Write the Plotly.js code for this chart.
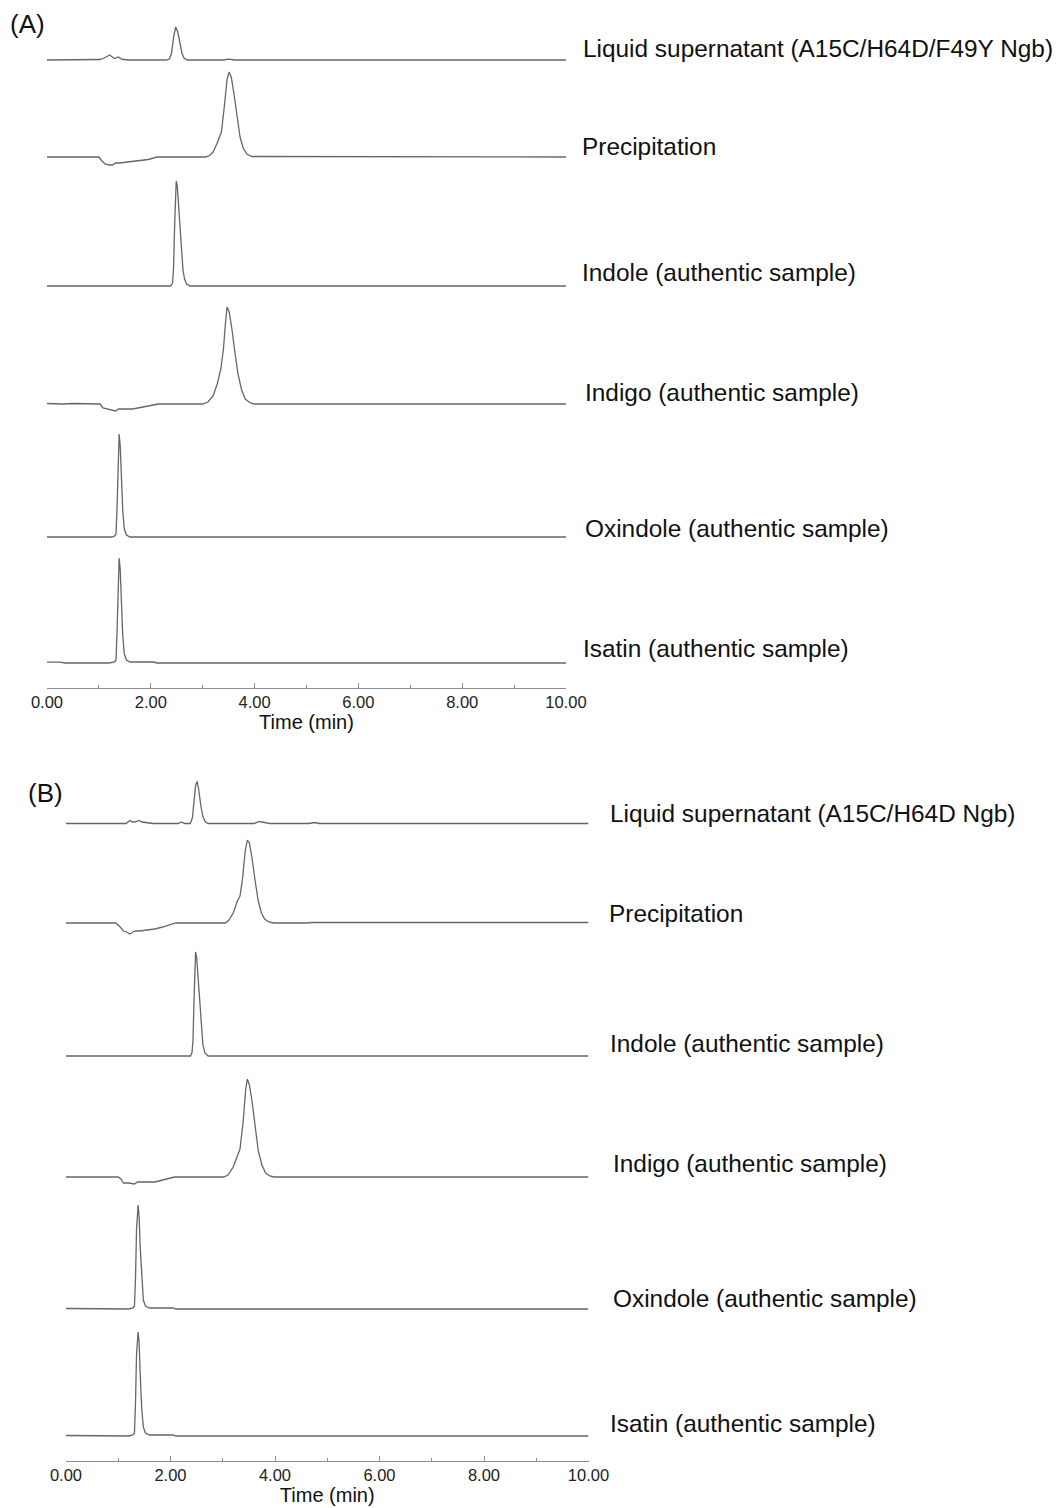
<!DOCTYPE html>
<html>
<head>
<meta charset="utf-8">
<script src="https://cdn.plot.ly/plotly-3.0.1.min.js"></script>
<style>
  html, body { margin: 0; padding: 0; background: #ffffff; }
  #chart { width: 1059px; height: 1508px; }
</style>
</head>
<body>
<div id="chart"></div>
<script>
// ---------------- DATA (time in min, detector response in arbitrary units) ----------------
const panelNames = ["(A)", "(B)"];
const labelsA = [
  "Liquid supernatant (A15C/H64D/F49Y Ngb)",
  "Precipitation",
  "Indole (authentic sample)",
  "Indigo (authentic sample)",
  "Oxindole (authentic sample)",
  "Isatin (authentic sample)"
];
const labelsB = [
  "Liquid supernatant (A15C/H64D Ngb)",
  "Precipitation",
  "Indole (authentic sample)",
  "Indigo (authentic sample)",
  "Oxindole (authentic sample)",
  "Isatin (authentic sample)"
];
const tickValues = [0, 2, 4, 6, 8, 10];
const axisTitle = "Time (min)";

// Panel A
const a1_t = [0, 0.95, 1.02, 1.10, 1.16, 1.21, 1.27, 1.31, 1.37, 1.46, 1.59, 2.30, 2.36, 2.40, 2.44, 2.48, 2.52, 2.56, 2.60, 2.64, 2.70, 3.40, 3.50, 3.62, 4.70, 4.80, 4.90, 6.60, 6.70, 6.80, 10];
const a1_y = [0, 0, 0.5, 2, 4, 5, 2.5, 1.5, 3, 0.5, 0, 0, 1, 7, 23, 33, 28, 16, 7, 2, 0, 0, 0.8, 0, 0, 0.5, 0, 0, 0.4, 0, 0];

const a2_t = [0, 1.00, 1.06, 1.12, 1.20, 1.26, 1.32, 1.40, 1.55, 1.75, 1.95, 2.12, 3.05, 3.12, 3.20, 3.28, 3.36, 3.42, 3.47, 3.51, 3.55, 3.60, 3.66, 3.72, 3.78, 3.85, 3.95, 10];
const a2_y = [0, 0, -4, -7, -8, -8, -6, -6, -5, -4, -2.5, 0, 0, 1, 5, 14, 25, 52, 78, 85, 80, 64, 40, 20, 9, 3, 0.5, 0];

const a3_t = [0, 2.38, 2.42, 2.44, 2.46, 2.48, 2.49, 2.51, 2.53, 2.56, 2.59, 2.62, 2.65, 2.69, 2.76, 10];
const a3_y = [0, 0, 3, 20, 62, 98, 105, 100, 84, 58, 33, 16, 7, 2, 0, 0];

const a4_t = [0, 0.30, 0.50, 0.80, 1.02, 1.08, 1.15, 1.25, 1.32, 1.38, 1.50, 1.65, 1.75, 1.85, 2.05, 2.15, 3.00, 3.10, 3.20, 3.28, 3.35, 3.40, 3.44, 3.47, 3.51, 3.56, 3.62, 3.68, 3.75, 3.82, 3.92, 4.00, 10];
const a4_y = [0.5, 0, 0.5, 0, 0, -4, -5, -6, -7, -5, -5, -5, -4, -3, -1, 0, 0, 2, 8, 20, 35, 55, 82, 97, 92, 76, 52, 30, 14, 5, 1, 0, 0];

const a5_t = [0, 1.25, 1.30, 1.33, 1.35, 1.37, 1.39, 1.41, 1.43, 1.46, 1.49, 1.53, 1.60, 1.85, 1.90, 10];
const a5_y = [0, 0, 0.8, 3, 30, 80, 103, 92, 60, 26, 8, 2, 0, 0.5, 0, 0];

const a6_t = [0, 0.25, 0.35, 1.20, 1.30, 1.33, 1.35, 1.37, 1.39, 1.41, 1.43, 1.46, 1.49, 1.53, 1.60, 2.05, 2.12, 10];
const a6_y = [0.8, 0.8, 0, 0, 1, 3, 32, 82, 105, 94, 62, 27, 9, 3, 1, 1, 0, 0];

// Panel B
const b1_t = [0, 1.15, 1.22, 1.27, 1.32, 1.37, 1.40, 1.45, 1.50, 1.57, 1.67, 2.15, 2.21, 2.27, 2.38, 2.42, 2.45, 2.48, 2.51, 2.54, 2.58, 2.62, 2.66, 2.72, 3.60, 3.70, 3.80, 3.90, 4.65, 4.75, 4.85, 10];
const b1_y = [0, 0, 3, 1.5, 1.5, 2.5, 3, 1.5, 1, 0.5, 0, 0, 1.5, 0, 0, 6, 22, 38, 42, 34, 18, 7, 2, 0, 0, 2, 1, 0, 0, 1, 0, 0];

const b2_t = [0, 0.95, 1.02, 1.10, 1.16, 1.22, 1.28, 1.33, 1.40, 1.55, 1.70, 1.85, 2.00, 2.10, 3.05, 3.12, 3.20, 3.28, 3.33, 3.38, 3.43, 3.47, 3.51, 3.56, 3.62, 3.68, 3.74, 3.80, 3.88, 3.97, 4.60, 4.70, 10];
const b2_y = [0, 0, -3, -8, -9, -11, -9, -8, -8, -7, -6, -4, -2, 0, 0, 3, 10, 22, 27, 45, 72, 83, 80, 65, 42, 22, 10, 4, 1, 0, 0, 0.5, 0.5];

const b3_t = [0, 2.38, 2.41, 2.43, 2.45, 2.47, 2.48, 2.50, 2.53, 2.56, 2.59, 2.62, 2.66, 2.72, 10];
const b3_y = [0, 0, 3, 15, 55, 96, 104, 99, 78, 50, 26, 11, 3, 0, 0];

const b4_t = [0, 1.00, 1.05, 1.10, 1.20, 1.31, 1.37, 1.50, 1.70, 1.85, 2.00, 2.08, 3.02, 3.10, 3.20, 3.28, 3.33, 3.39, 3.44, 3.47, 3.51, 3.56, 3.62, 3.68, 3.75, 3.82, 3.90, 3.98, 10];
const b4_y = [0, 0, -2, -6, -6, -7, -5, -5, -5, -3, -1, 0, 0, 2, 10, 22, 28, 55, 88, 98, 92, 76, 50, 26, 12, 4, 1, 0, 0];

const b5_t = [0, 0.40, 0.50, 1.20, 1.28, 1.31, 1.33, 1.35, 1.38, 1.40, 1.42, 1.45, 1.48, 1.52, 1.60, 2.05, 2.10, 10];
const b5_y = [0.5, 0.5, 0, 0, 1, 3, 30, 80, 104, 92, 62, 28, 9, 3, 1, 1, 0, 0];

const b6_t = [0, 0.40, 0.50, 1.20, 1.28, 1.31, 1.33, 1.35, 1.38, 1.40, 1.42, 1.45, 1.48, 1.52, 1.60, 2.05, 2.10, 10];
const b6_y = [0.5, 0.5, 0, 0, 1, 3, 32, 82, 104, 93, 62, 27, 9, 3, 1, 1, 0, 0];

// ---------------- LAYOUT / STYLE ----------------
const W = 1059, H = 1508;
const FONT = "Liberation Sans, Arial, Helvetica, sans-serif";
const LINE = "#666666";
const AXIS = "#8c8c8c";

const seriesA = [[a1_t, a1_y], [a2_t, a2_y], [a3_t, a3_y], [a4_t, a4_y], [a5_t, a5_y], [a6_t, a6_y]];
const seriesB = [[b1_t, b1_y], [b2_t, b2_y], [b3_t, b3_y], [b4_t, b4_y], [b5_t, b5_y], [b6_t, b6_y]];

const panels = [
  { series: seriesA, labels: labelsA, xa: "x", xkey: "xaxis",
    xpx: [47, 566], axisY: 687.5,
    base: [60, 157, 286, 404, 537, 663],
    labX: [581, 580, 580, 583, 583, 581], labY: [48, 146, 273, 393, 528, 649],
    tagX: 27, tagY: 24 },
  { series: seriesB, labels: labelsB, xa: "x2", xkey: "xaxis2",
    xpx: [66, 588.5], axisY: 1460.5,
    base: [823.5, 923, 1056, 1177, 1309, 1436],
    labX: [608, 607, 608, 611, 611, 608], labY: [813, 913, 1043, 1163, 1298, 1423],
    tagX: 45, tagY: 793 }
];

const data = [];
const layout = {
  width: W, height: H, autosize: false,
  margin: { l: 0, r: 0, t: 0, b: 0, pad: 0 },
  paper_bgcolor: "#ffffff", plot_bgcolor: "rgba(0,0,0,0)",
  showlegend: false,
  font: { family: FONT, color: "#111111" },
  annotations: []
};

let yi = 1;
panels.forEach((p, pi) => {
  layout[p.xkey] = {
    domain: [p.xpx[0] / W, p.xpx[1] / W],
    range: [0, 10],
    anchor: "free",
    position: 1 - p.axisY / H,
    showline: true, linecolor: AXIS, linewidth: 1,
    ticks: "inside", ticklen: 5, tickwidth: 1, tickcolor: AXIS,
    tickvals: tickValues,
    ticktext: tickValues.map(v => v.toFixed(2)),
    minor: { dtick: 1, tick0: 0, ticks: "inside", ticklen: 3, tickcolor: AXIS, tickwidth: 1 },
    showgrid: false, zeroline: false,
    tickfont: { family: FONT, size: 16.5, color: "#222222" },
    title: { text: axisTitle, font: { family: FONT, size: 20, color: "#111111" }, standoff: 1 },
    fixedrange: true
  };
  p.series.forEach((s, k) => {
    const b = p.base[k];
    const top = Math.max(b - 120, 1);
    const bot = b + 12;
    const key = "yaxis" + (yi === 1 ? "" : yi);
    layout[key] = {
      domain: [1 - bot / H, 1 - top / H],
      range: [-(bot - b), b - top],
      anchor: p.xa, visible: false, fixedrange: true
    };
    data.push({
      type: "scatter", mode: "lines",
      x: s[0], y: s[1],
      xaxis: p.xa, yaxis: "y" + (yi === 1 ? "" : yi),
      line: { color: LINE, width: 1.3 },
      hoverinfo: "skip"
    });
    layout.annotations.push({
      xref: "paper", yref: "paper",
      x: p.labX[k] / W, y: 1 - p.labY[k] / H,
      xanchor: "left", yanchor: "middle",
      text: p.labels[k], showarrow: false,
      font: { family: FONT, size: 24.4, color: "#111111" }
    });
    yi++;
  });
  layout.annotations.push({
    xref: "paper", yref: "paper",
    x: p.tagX / W, y: 1 - p.tagY / H,
    xanchor: "center", yanchor: "middle",
    text: panelNames[pi], showarrow: false,
    font: { family: FONT, size: 26, color: "#111111" }
  });
});

Plotly.newPlot("chart", data, layout, { staticPlot: true, displayModeBar: false });
</script>
</body>
</html>
